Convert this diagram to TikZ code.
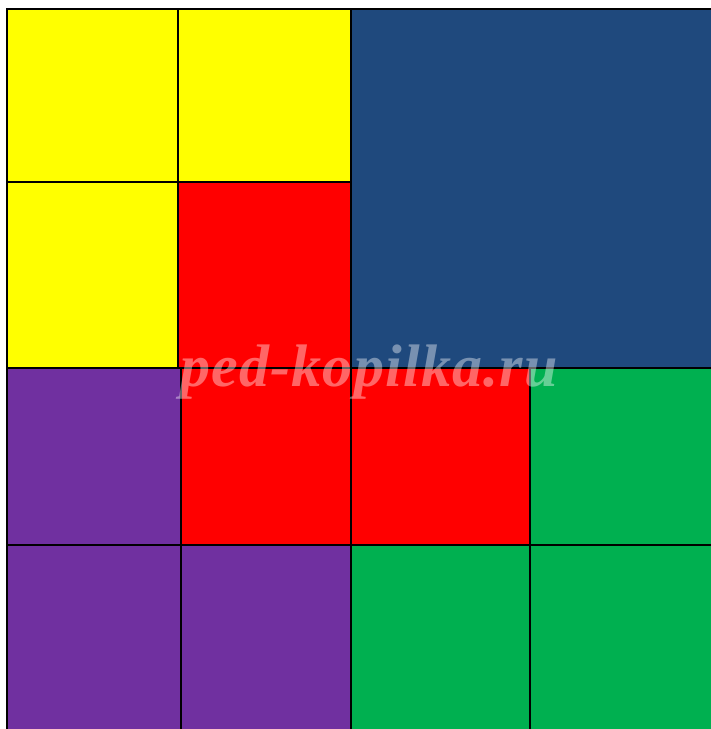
\documentclass[tikz,border=0pt]{standalone}
\usepackage{fontspec}
\usepackage{tikz}
\newfontfamily\markfont[LetterSpace=2]{Liberation Serif}
\definecolor{sqyellow}{HTML}{FFFF00}
\definecolor{sqred}{HTML}{FF0000}
\definecolor{sqblue}{HTML}{1F497D}
\definecolor{sqpurple}{HTML}{7030A0}
\definecolor{sqgreen}{HTML}{00B050}

\begin{document}
\begin{tikzpicture}[x=1pt,y=-1pt,line join=miter,
    cell@/.style={draw=black,line width=1.3pt}]
    \useasboundingbox[fill=white] (0,0) rectangle (711,729);
    % The top half.
    \fill[sqyellow,cell@] (7,9) rectangle (178,182);
    \fill[sqyellow,cell@] (178,9) rectangle (351,182);
    \fill[sqyellow,cell@] (7,182) rectangle (178,368);
    \fill[sqred,cell@] (178,182) rectangle (351,368);
    \fill[sqblue,cell@] (351,9) rectangle (715,368);

    % The third row.
    \fill[sqpurple,cell@] (7,368) rectangle (181,545);
    \fill[sqred,cell@] (181,368) rectangle (351,545);
    \fill[sqred,cell@] (351,368) rectangle (530,545);
    \fill[sqgreen,cell@] (530,368) rectangle (715,545);

    % The bottom row.
    \fill[sqpurple,cell@] (7,545) rectangle (181,733);
    \fill[sqpurple,cell@] (181,545) rectangle (351,733);
    \fill[sqgreen,cell@] (351,545) rectangle (530,733);
    \fill[sqgreen,cell@] (530,545) rectangle (715,733);

    % The site name over the picture.
    \node[text=white,text opacity=.4,inner sep=0pt,anchor=base,
      font=\markfont\fontsize{60}{60}\selectfont\bfseries\itshape]
      (mark) at (369,386) {ped-kopilka.ru};
  \end{tikzpicture}
\end{document}
